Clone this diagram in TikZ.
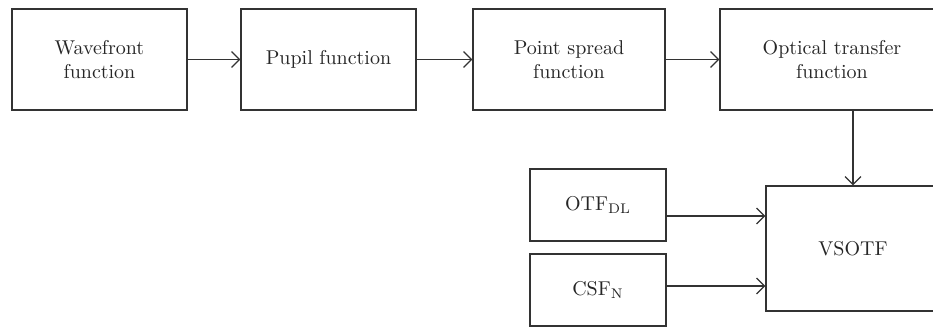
\documentclass[tikz,border=0pt]{standalone}
\usetikzlibrary{arrows.meta}
\tikzset{>={Straight Barb[length=4pt,width=8pt]}}
\tikzset{
  block/.style={draw=black!80, text=black!85, line width=0.6pt, align=center, inner sep=2pt},
  flow/.style={->, draw=black!80, line width=0.6pt}
}

\begin{document}
\begin{tikzpicture}[x=0.5pt,y=-0.5pt]
\clip (0,0) rectangle (933,328);
% top row
\node[block,minimum width=87.5pt,minimum height=50.5pt] (wave) at (99.5,59.5) {Wavefront\\function};
\node[block,minimum width=87.5pt,minimum height=50.5pt] (pupil) at (328.5,59.5) {Pupil function};
\node[block,minimum width=96pt,minimum height=50.5pt] (psf) at (569,59.5) {Point spread\\function};
\node[block,minimum width=112pt,minimum height=50.5pt] (otf) at (832,59.5) {Optical transfer\\function};
% bottom part
\node[block,minimum width=68pt,minimum height=36pt] (otfdl) at (598,205) {OTF$_{\mathrm{DL}}$};
\node[block,minimum width=68pt,minimum height=36pt] (csf) at (598,290) {CSF$_{\mathrm{N}}$};
\node[block,minimum width=87pt,minimum height=62.5pt] (vsotf) at (853,248.5) {VSOTF};
\draw[flow] (wave) -- (pupil);
\draw[flow] (pupil) -- (psf);
\draw[flow] (psf) -- (otf);
\draw[flow] (vsotf.north |- otf.south) -- (vsotf.north);
\draw[flow] ([yshift=-5.5pt]otfdl.east) -- ([yshift=-5.5pt]otfdl.east -| vsotf.west);
\draw[flow] ([yshift=2pt]csf.east) -- ([yshift=2pt]csf.east -| vsotf.west);
\end{tikzpicture}
\end{document}
